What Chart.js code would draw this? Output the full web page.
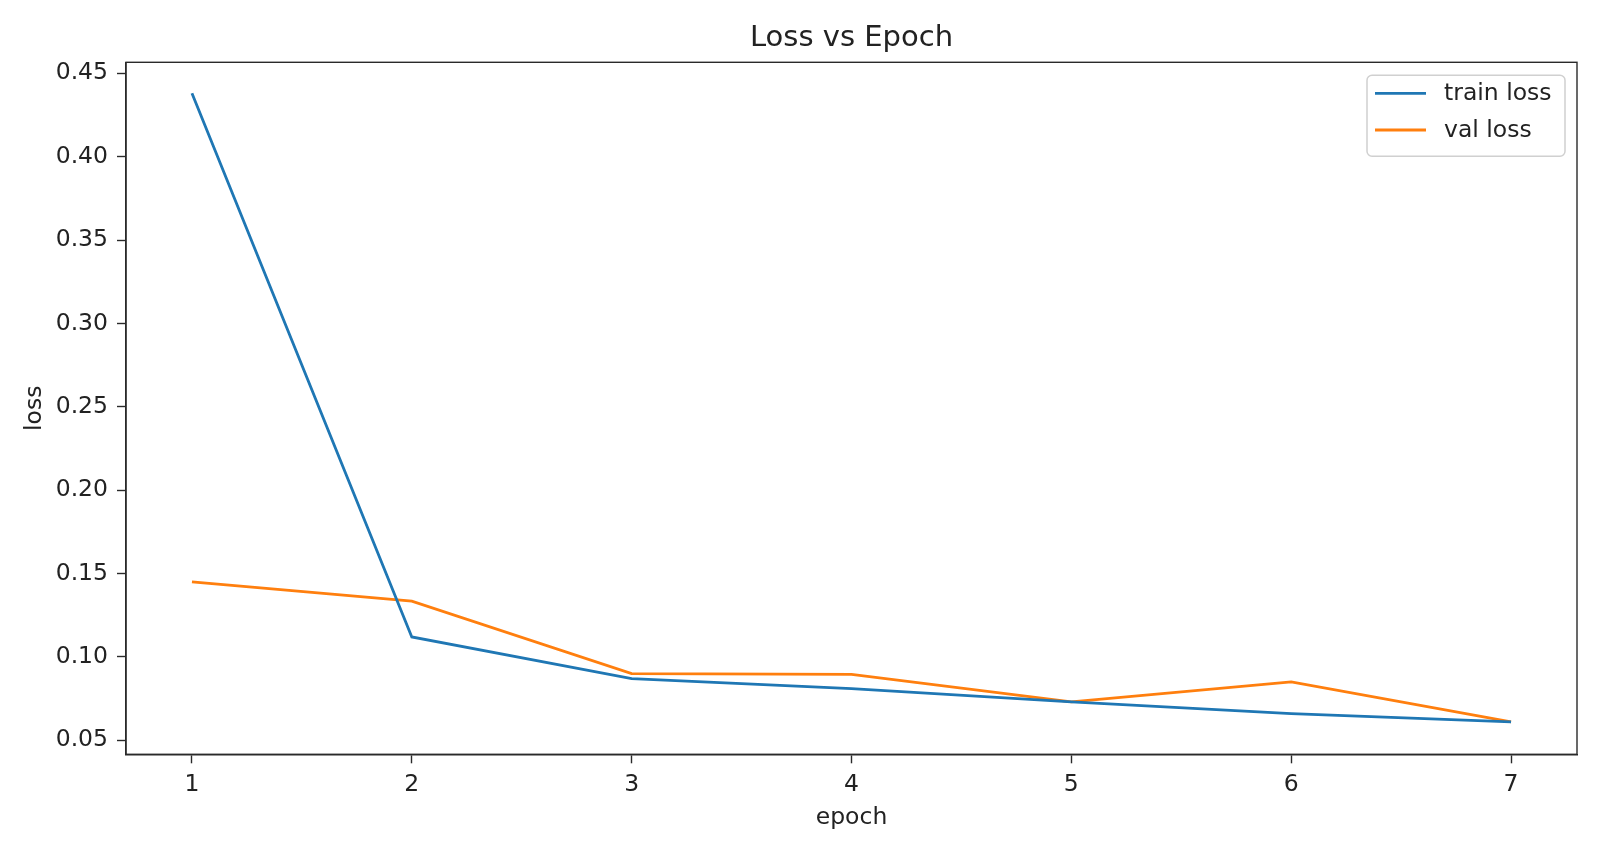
<!DOCTYPE html>
<html>
<head>
<meta charset="utf-8">
<script src="https://cdn.jsdelivr.net/npm/chart.js@4/dist/chart.umd.min.js"></script>
<style>
  html, body { margin: 0; padding: 0; background: #fff; }
  #wrap { width: 1600px; height: 853px; }
</style>
</head>
<body>
<div id="wrap"><canvas id="mycanvas" width="1600" height="853"></canvas></div>
<script>
var epochs = [1, 2, 3, 4, 5, 6, 7];
var trainLoss = [0.438, 0.112, 0.087, 0.081, 0.073, 0.066, 0.061];
var valLoss = [0.145, 0.1335, 0.090, 0.0895, 0.073, 0.085, 0.061];
var yTicks = [0.05, 0.10, 0.15, 0.20, 0.25, 0.30, 0.35, 0.40, 0.45];
var chartTitle = 'Loss vs Epoch';

var FONT = "'DejaVu Sans', sans-serif";

function points(ys) {
  var out = [];
  for (var i in epochs) out.push({x: epochs[i], y: ys[i]});
  return out;
}

// full box round the plot area (matplotlib spines) + title centred over the axes
var frame = {
  id: 'frame',
  afterDraw: function(chart) {
    var ctx = chart.ctx, a = chart.chartArea;
    ctx.save();
    ctx.strokeStyle = '#2a2a2a';
    ctx.lineWidth = 1.4;
    ctx.strokeRect(a.left, a.top, a.right - a.left, a.bottom - a.top);
    ctx.fillStyle = '#222';
    ctx.font = "29px " + FONT;
    ctx.textAlign = 'center';
    ctx.textBaseline = 'alphabetic';
    ctx.fillText(chartTitle, (a.left + a.right) / 2, 45.5);
    ctx.restore();
  }
};

// legend box drawn inside the plot area, top right
var boxLegend = {
  id: 'boxLegend',
  afterDraw: function(chart) {
    var ctx = chart.ctx, area = chart.chartArea;
    var w = 198, h = 81, x = area.right - w - 12, y = area.top + 13;
    ctx.save();
    ctx.fillStyle = 'rgba(255,255,255,0.8)';
    ctx.strokeStyle = '#d0d0d0';
    ctx.lineWidth = 1.5;
    ctx.beginPath();
    ctx.roundRect(x, y, w, h, 5);
    ctx.fill();
    ctx.stroke();
    ctx.font = "23.5px " + FONT;
    ctx.textBaseline = 'middle';
    chart.data.datasets.forEach(function(ds, i) {
      var ly = y + 18 + i * 36.7;
      ctx.strokeStyle = ds.borderColor;
      ctx.lineWidth = 2.8;
      ctx.beginPath();
      ctx.moveTo(x + 8, ly);
      ctx.lineTo(x + 59, ly);
      ctx.stroke();
      ctx.fillStyle = '#222';
      ctx.fillText(ds.label, x + 77, ly + 1);
    });
    ctx.restore();
  }
};

var ctx = document.getElementById('mycanvas');
new Chart(ctx, {
  type: 'line',
  data: {
    datasets: [
      { label: 'train loss', data: points(trainLoss), borderColor: '#1f77b4', borderWidth: 2.8, pointRadius: 0, tension: 0, fill: false },
      { label: 'val loss', data: points(valLoss), borderColor: '#ff7f0e', borderWidth: 2.8, pointRadius: 0, tension: 0, fill: false }
    ]
  },
  options: {
    responsive: false,
    animation: false,
    devicePixelRatio: 1,
    layout: { padding: { left: 0, right: 23, top: 62.3, bottom: 0 } },
    plugins: {
      legend: { display: false },
      tooltip: { enabled: false },
      title: { display: false }
    },
    scales: {
      x: {
        type: 'linear',
        min: 0.7,
        max: 7.3,
        afterBuildTicks: function(scale) {
          scale.ticks = epochs.map(function(v) { return {value: v}; });
        },
        afterFit: function(scale) { scale.height = 98.7; },
        ticks: { color: '#222', font: { family: FONT, size: 23.5 }, padding: 7, maxRotation: 0 },
        grid: { display: true, drawOnChartArea: false, drawTicks: true, tickLength: 9, color: '#2a2a2a', tickWidth: 1.4 },
        border: { display: true, color: '#2a2a2a', width: 1.4 },
        title: { display: true, text: 'epoch', color: '#222', font: { family: FONT, size: 23.5 }, padding: { top: 0, bottom: 21 } }
      },
      y: {
        type: 'linear',
        min: 0.0416,
        max: 0.4566,
        afterBuildTicks: function(scale) {
          scale.ticks = yTicks.map(function(v) { return {value: v}; });
        },
        afterFit: function(scale) { scale.width = 126; },
        ticks: {
          color: '#222', font: { family: FONT, size: 23.5 }, padding: 9,
          callback: function(v) { return v.toFixed(2); }
        },
        grid: { display: true, drawOnChartArea: false, drawTicks: true, tickLength: 9, color: '#2a2a2a', tickWidth: 1.4 },
        border: { display: true, color: '#2a2a2a', width: 1.4 },
        title: { display: true, text: 'loss', color: '#222', font: { family: FONT, size: 23.5 }, padding: { top: 20.6, bottom: 0 } }
      }
    }
  },
  plugins: [frame, boxLegend]
});
</script>
</body>
</html>
